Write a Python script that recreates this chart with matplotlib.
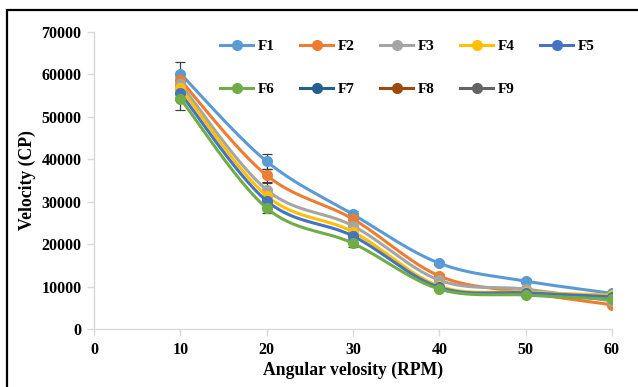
import matplotlib
matplotlib.use("Agg")
import matplotlib.pyplot as plt
import numpy as np
from matplotlib.patches import Rectangle

rpm = [10, 20, 30, 40, 50, 60]
series_names = ["F1", "F2", "F3", "F4", "F5", "F6", "F7", "F8", "F9"]

f1 = [60200, 39500, 27000, 15500, 11300, 8400]
f2 = [58700, 36200, 25900, 12500, 8600, 5700]
f3 = [57800, 32800, 24300, 11500, 9400, 6600]
f4 = [56900, 31400, 22900, 10100, 8700, 8000]
f5 = [55600, 30200, 21900, 9800, 8500, 7600]
f6 = [54300, 28500, 20200, 9400, 8000, 7000]
f7 = []
f8 = []
f9 = []

err1 = [2800, 1700, 900, 400, 400, 400]
err2 = [1500, 1600, 800, 500, 400, 300]
err3 = [1500, 1600, 700, 400, 300, 300]
err4 = [1000, 800, 600, 300, 300, 300]
err5 = [1000, 800, 600, 300, 300, 300]
err6 = [2700, 1100, 900, 300, 300, 300]

values = [f1, f2, f3, f4, f5, f6, f7, f8, f9]
errors = [err1, err2, err3, err4, err5, err6, [], [], []]
colors = ["#5B9BD5", "#ED7D31", "#A5A5A5", "#FFC000", "#4472C4",
          "#70AD47", "#255E91", "#9E480E", "#636363"]


def smooth(x, y, n=30):
    # excel-like smoothed line (bezier through the points)
    x = np.asarray(x, float)
    y = np.asarray(y, float)
    pts = np.column_stack([x, y])
    out = []
    for i in range(len(pts) - 1):
        p0 = pts[max(i - 1, 0)]
        p1 = pts[i]
        p2 = pts[i + 1]
        p3 = pts[min(i + 2, len(pts) - 1)]
        c1 = p1 + (p2 - p0) / 6
        c2 = p2 - (p3 - p1) / 6
        t = np.linspace(0, 1, n)[:, None]
        seg = ((1 - t) ** 3 * p1 + 3 * (1 - t) ** 2 * t * c1
               + 3 * (1 - t) * t ** 2 * c2 + t ** 3 * p2)
        out.append(seg if i == 0 else seg[1:])
    out = np.vstack(out)
    return out[:, 0], out[:, 1]


plt.rcParams["font.family"] = ["Liberation Serif", "DejaVu Serif"]
plt.rcParams["font.weight"] = "bold"

fig = plt.figure(figsize=(6.38, 3.87), dpi=100)
ax = fig.add_axes([94 / 638, 1 - 329 / 387, 518 / 638, 297 / 387])

handles = []
for i, name in enumerate(series_names):
    vals = values[i]
    c = colors[i]
    if len(vals):
        ax.errorbar(rpm, vals, yerr=errors[i], fmt="none", ecolor="#404040",
                    elinewidth=0.9, capsize=3.5, capthick=0.9, zorder=2 + i * 0.1)
        sx, sy = smooth(rpm, vals)
        ax.plot(sx, sy, color=c, lw=2.2, zorder=3 + i * 0.1,
                solid_capstyle="round")
        ax.plot(rpm, vals, "o", color=c, ms=7, zorder=3.05 + i * 0.1)
    h, = ax.plot([], [], "-o", color=c, lw=2.2, ms=7, label=name)
    handles.append(h)

ax.set_xlim(0, 60)
ax.set_ylim(0, 70000)
ax.set_xticks([0, 10, 20, 30, 40, 50, 60])
ax.set_yticks(np.arange(0, 70001, 10000))
for s in ["top", "right"]:
    ax.spines[s].set_visible(False)
for s in ["left", "bottom"]:
    ax.spines[s].set_color("#D9D9D9")
    ax.spines[s].set_linewidth(1.0)
ax.tick_params(axis="both", colors="#D9D9D9", length=5, width=1.0,
               labelcolor="black", labelsize=11.5)
ax.tick_params(axis="x", pad=4)
ax.tick_params(axis="y", pad=4)
for lab in ax.get_xticklabels() + ax.get_yticklabels():
    lab.set_fontweight("bold")

ax.set_xlabel("Angular velosity (RPM)", fontsize=12.7, fontweight="bold",
              labelpad=3)
ax.set_ylabel("Velocity (CP)", fontsize=12.7, fontweight="bold", labelpad=4)

# row-major ordering for the two legend rows
order = [0, 5, 1, 6, 2, 7, 3, 8, 4]
leg = fig.legend([handles[k] for k in order], [series_names[k] for k in order],
                 ncol=5, loc="upper left", bbox_to_anchor=(206 / 638, 1 - 26 / 387),
                 frameon=False, handlelength=2.2, handletextpad=0.26,
                 columnspacing=1.67, labelspacing=1.88,
                 prop={"family": "Liberation Serif", "weight": "bold", "size": 11})

fig.patches.append(Rectangle((7 / 638, -0.1), 1.2, 0.1 + 1 - 10 / 387,
                             transform=fig.transFigure, fill=False,
                             edgecolor="black", lw=1.6))

fig.savefig("out.png", dpi=100)
